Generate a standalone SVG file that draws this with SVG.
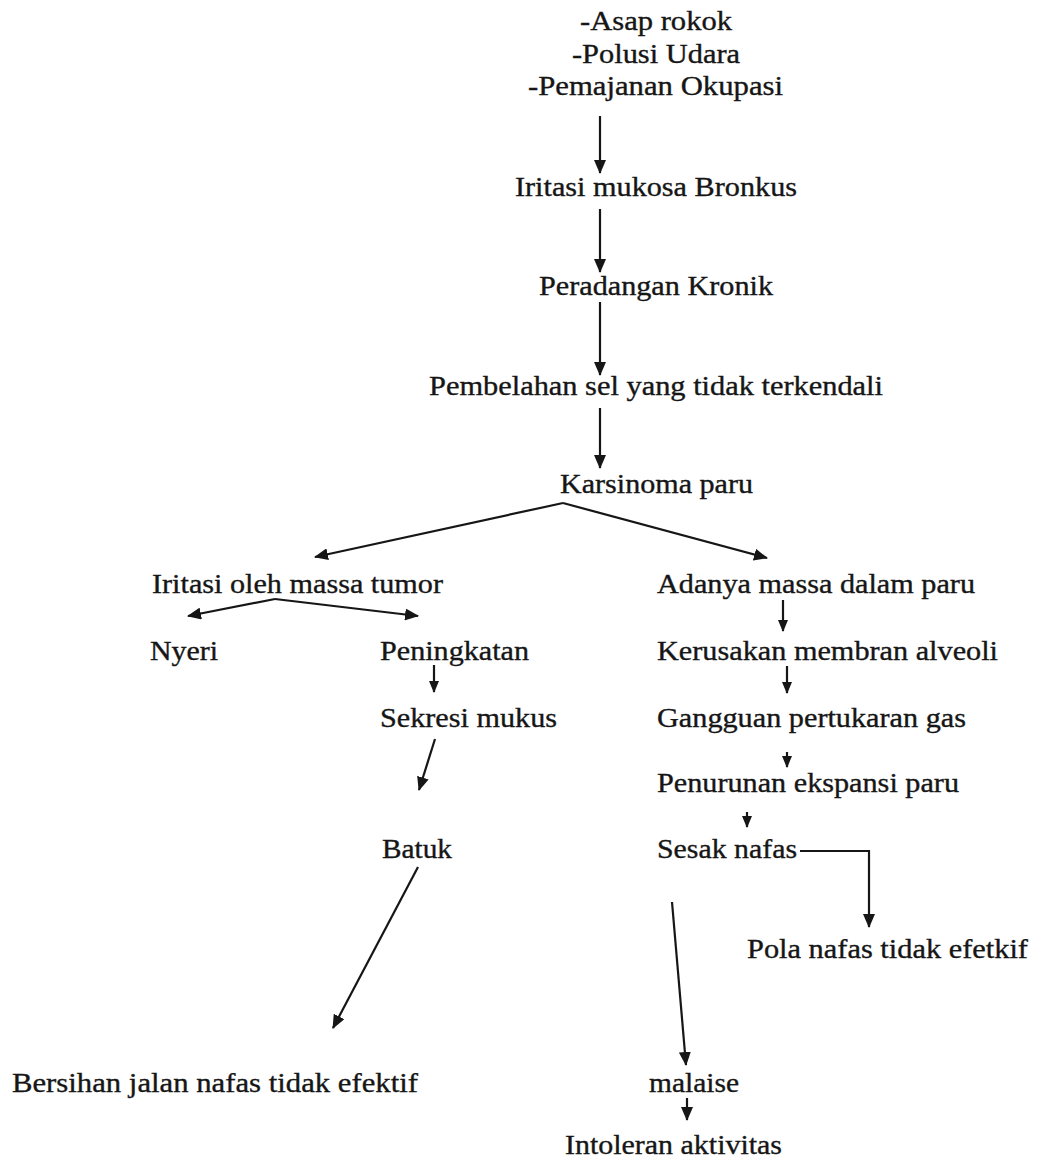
<svg xmlns="http://www.w3.org/2000/svg" width="1040" height="1162" viewBox="0 0 1040 1162">
<style>
  text { font-family: "Liberation Serif", "Times New Roman", serif; font-size: 27px; fill: #161616; stroke: #161616; stroke-width: 0.35; }
  .c { stroke: #161616; stroke-width: 2.2; fill: none; marker-end: url(#ah); }
  .s { stroke: #161616; stroke-width: 2.2; fill: none; marker-end: url(#ahs); }
</style>
<defs>
  <marker id="ah" viewBox="0 0 14 12" refX="13" refY="6" markerWidth="14" markerHeight="12" orient="auto" markerUnits="userSpaceOnUse">
    <path d="M0,0 L14,6 L0,12 Z" fill="#161616"/>
  </marker>
  <marker id="ahs" viewBox="0 0 12 10" refX="11" refY="5" markerWidth="12" markerHeight="10" orient="auto" markerUnits="userSpaceOnUse">
    <path d="M0,0 L12,5 L0,10 Z" fill="#161616"/>
  </marker>
</defs>
<rect width="1040" height="1162" fill="#ffffff"/>
<g id="connectors">
  <path class="c" d="M600,116 V173"/>
  <path class="c" d="M600,209 V272"/>
  <path class="c" d="M600,302 V375"/>
  <path class="c" d="M600,408 V468"/>
  <path class="c" d="M563,503 L315,557"/>
  <path class="c" d="M563,503 L767,558"/>
  <path class="c" d="M275,599 L188,616"/>
  <path class="c" d="M275,599 L418,616"/>
  <path class="s" d="M434,665 V692"/>
  <path class="c" d="M435,739 L419,790"/>
  <path class="c" d="M418,867 L333,1028"/>
  <path class="s" d="M783,600 V631"/>
  <path class="s" d="M787,666 V693"/>
  <path class="s" d="M787,752 V767"/>
  <path class="s" d="M747,812 V827"/>
  <path class="c" d="M800,851 H869 V927"/>
  <path class="c" d="M672,902 L686,1065"/>
  <path class="c" d="M687,1098 V1120"/>
</g>
<g id="n1"><text x="580" y="30" textLength="152" lengthAdjust="spacingAndGlyphs">-Asap rokok</text></g>
<g id="n2"><text x="572" y="63" textLength="168" lengthAdjust="spacingAndGlyphs">-Polusi Udara</text></g>
<g id="n3"><text x="528" y="95" textLength="255" lengthAdjust="spacingAndGlyphs">-Pemajanan Okupasi</text></g>
<g id="n4"><text x="515" y="196" textLength="282" lengthAdjust="spacingAndGlyphs">Iritasi mukosa Bronkus</text></g>
<g id="n5"><text x="539" y="295" textLength="234" lengthAdjust="spacingAndGlyphs">Peradangan Kronik</text></g>
<g id="n6"><text x="429" y="395" textLength="454" lengthAdjust="spacingAndGlyphs">Pembelahan sel yang tidak terkendali</text></g>
<g id="n7"><text x="560" y="493" textLength="193" lengthAdjust="spacingAndGlyphs">Karsinoma paru</text></g>
<g id="n8"><text x="152" y="593" textLength="291" lengthAdjust="spacingAndGlyphs">Iritasi oleh massa tumor</text></g>
<g id="n9"><text x="150" y="660" textLength="68" lengthAdjust="spacingAndGlyphs">Nyeri</text></g>
<g id="n10"><text x="380" y="660" textLength="149" lengthAdjust="spacingAndGlyphs">Peningkatan</text></g>
<g id="n11"><text x="380" y="727" textLength="177" lengthAdjust="spacingAndGlyphs">Sekresi mukus</text></g>
<g id="n12"><text x="382" y="858" textLength="70" lengthAdjust="spacingAndGlyphs">Batuk</text></g>
<g id="n13"><text x="12" y="1092" textLength="406" lengthAdjust="spacingAndGlyphs">Bersihan jalan nafas tidak efektif</text></g>
<g id="n14"><text x="657" y="593" textLength="318" lengthAdjust="spacingAndGlyphs">Adanya massa dalam paru</text></g>
<g id="n15"><text x="657" y="660" textLength="341" lengthAdjust="spacingAndGlyphs">Kerusakan membran alveoli</text></g>
<g id="n16"><text x="657" y="727" textLength="309" lengthAdjust="spacingAndGlyphs">Gangguan pertukaran gas</text></g>
<g id="n17"><text x="657" y="792" textLength="302" lengthAdjust="spacingAndGlyphs">Penurunan ekspansi paru</text></g>
<g id="n18"><text x="657" y="858" textLength="140" lengthAdjust="spacingAndGlyphs">Sesak nafas</text></g>
<g id="n19"><text x="747" y="958" textLength="281" lengthAdjust="spacingAndGlyphs">Pola nafas tidak efetkif</text></g>
<g id="n20"><text x="649" y="1092" textLength="90" lengthAdjust="spacingAndGlyphs">malaise</text></g>
<g id="n21"><text x="565" y="1154" textLength="217" lengthAdjust="spacingAndGlyphs">Intoleran aktivitas</text></g>
</svg>
